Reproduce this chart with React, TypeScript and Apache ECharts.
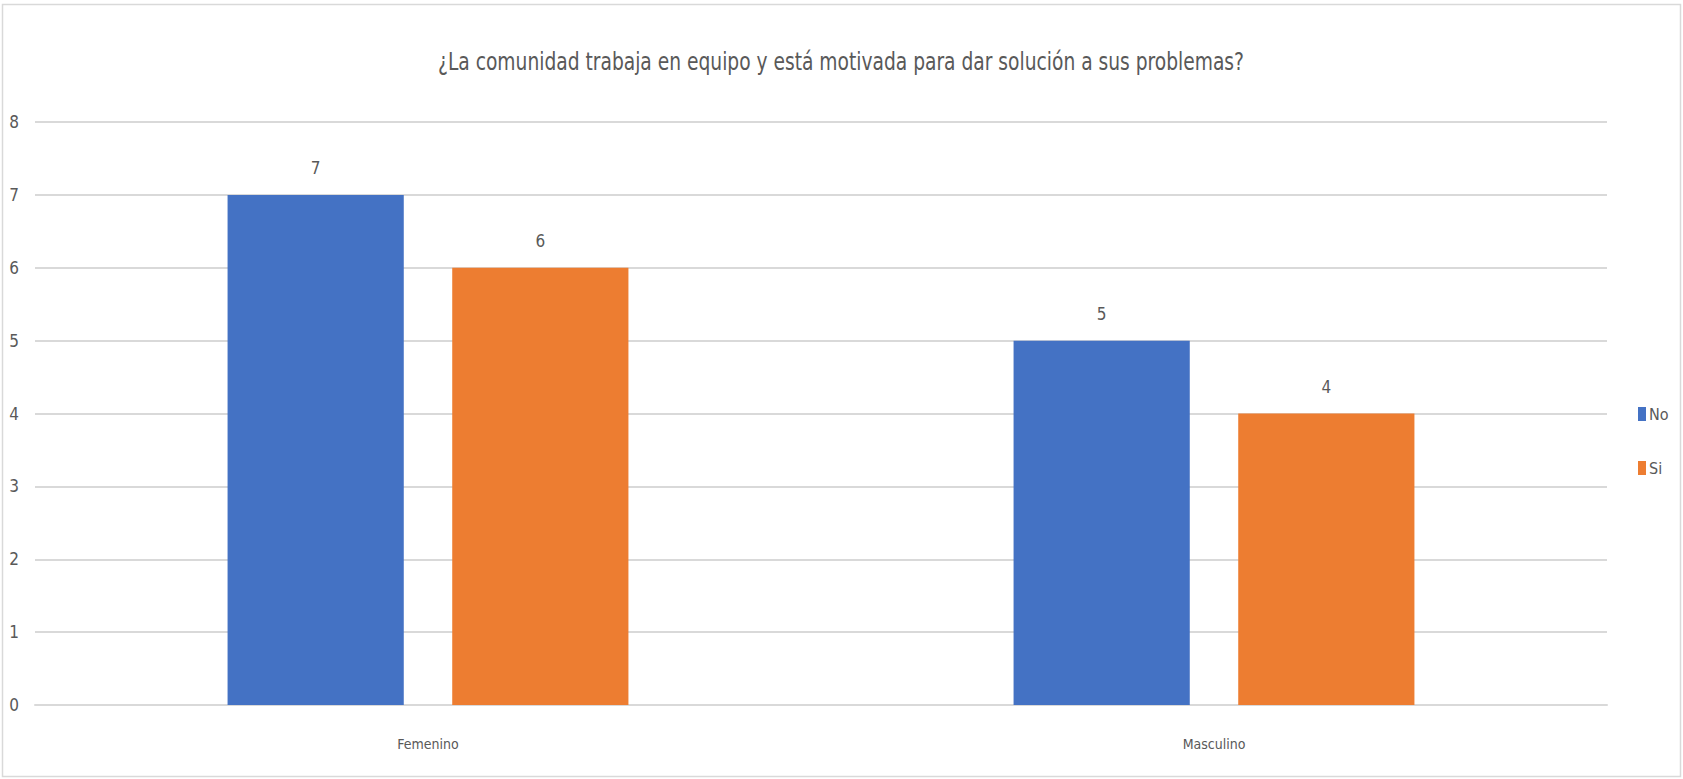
import React, { useEffect, useRef } from "react";
import * as echarts from "echarts";

const titleText = "¿La comunidad trabaja en equipo y está motivada para dar solución a sus problemas?";
const categories = ["Femenino", "Masculino"];
const seriesNames = ["No", "Si"];
const noValues = [7, 5];
const siValues = [6, 4];
const yMin = 0;
const yMax = 8;
const yInterval = 1;

const FONT = "'DejaVu Sans Condensed', 'Liberation Sans Narrow', 'Noto Sans', sans-serif";
const TEXT = "#595959";
const GRID = "#d9d9d9";

export default function App() {
  const ref = useRef<HTMLDivElement>(null);
  useEffect(() => {
    if (!ref.current) return;
    const chart = echarts.init(ref.current, null, { renderer: "svg" });
    const labelOpt = {
      show: true,
      position: "top",
      distance: 18,
      color: TEXT,
      fontSize: 17,
      fontFamily: FONT,
    };
    chart.setOption({
      animation: false,
      backgroundColor: "#ffffff",
      textStyle: { fontFamily: FONT },
      legend: {
        orient: "vertical",
        left: 1633,
        top: 401,
        itemWidth: 8,
        itemHeight: 14,
        itemGap: 38,
        icon: "rect",
        data: seriesNames,
        textStyle: { color: TEXT, fontSize: 16, fontFamily: FONT, padding: [0, 0, 0, -2] },
      },
      grid: { left: 35, right: 76, top: 122, bottom: 74 },
      xAxis: {
        type: "category",
        data: categories,
        axisLine: { show: true, lineStyle: { color: GRID, width: 2 } },
        axisTick: { show: false },
        axisLabel: { color: TEXT, fontSize: 14, fontFamily: FONT, margin: 32 },
      },
      yAxis: {
        type: "value",
        min: yMin,
        max: yMax,
        interval: yInterval,
        axisLine: { show: false },
        axisTick: { show: false },
        axisLabel: { color: TEXT, fontSize: 17, fontFamily: FONT, margin: 16 },
        splitLine: { lineStyle: { color: GRID, width: 2 } },
      },
      series: [
        {
          name: seriesNames[0],
          type: "bar",
          data: noValues,
          itemStyle: { color: "#4472C4" },
          barGap: "27.5%",
          barCategoryGap: "49%",
          label: labelOpt,
        },
        {
          name: seriesNames[1],
          type: "bar",
          data: siValues,
          itemStyle: { color: "#ED7D31" },
          barGap: "27.5%",
          barCategoryGap: "49%",
          label: labelOpt,
        },
      ],
      graphic: [
        {
          type: "rect",
          shape: { x: 2.5, y: 4.5, width: 1678, height: 772 },
          style: { fill: "none", stroke: GRID, lineWidth: 1.5 },
          silent: true,
        },
        {
          type: "text",
          x: 841,
          y: 61,
          scaleX: 0.83,
          silent: true,
          style: {
            text: titleText,
            x: 0,
            y: 0,
            align: "center",
            verticalAlign: "middle",
            fill: TEXT,
            fontSize: 25,
            fontFamily: FONT,
          },
        },
      ],
    });
    return () => chart.dispose();
  }, []);
  return (
    <div
      ref={ref}
      style={{ position: "absolute", left: 0, top: 0, width: 1683, height: 779 }}
    />
  );
}
